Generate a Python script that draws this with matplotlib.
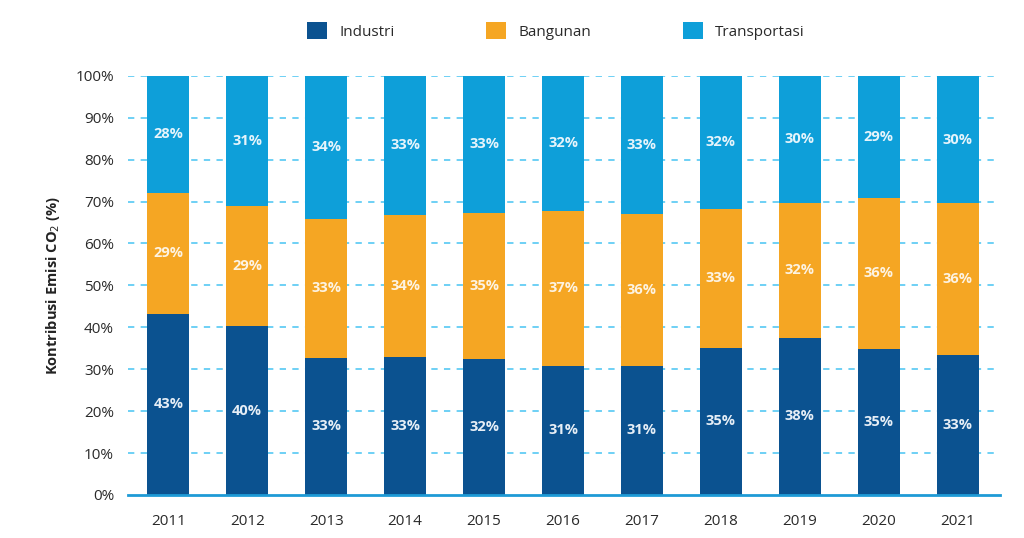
import numpy as np
import matplotlib.pyplot as plt

plt.rcParams['font.family'] = ['Open Sans', 'DejaVu Sans']

years = ['2011', '2012', '2013', '2014', '2015', '2016', '2017', '2018', '2019', '2020', '2021']
industri = [43.2, 40.3, 32.7, 32.9, 32.4, 30.8, 30.8, 35.1, 37.5, 34.8, 33.4]
bangunan = [28.9, 28.7, 33.2, 33.9, 34.9, 37.0, 36.3, 33.2, 32.2, 36.1, 36.2]
transportasi = [27.9, 31.0, 34.1, 33.2, 32.7, 32.2, 32.9, 31.7, 30.3, 29.1, 30.4]

c_ind = '#0b5290'
c_bang = '#f5a623'
c_trans = '#0e9fd9'

fig = plt.figure(figsize=(10.24, 5.38), dpi=100)
ax = fig.add_axes([0.125, 0.08, 0.852, 0.779])

x = np.arange(len(years))
w = 0.53
ind = np.array(industri)
bang = np.array(bangunan)
trans = np.array(transportasi)

# grid first so bars sit on top
for v in range(10, 101, 10):
    ax.axhline(v, color='#62cdf4', linestyle=(0, (3.5, 3.5)), linewidth=1.3, zorder=0)

b1 = ax.bar(x, ind, w, color=c_ind, label='Industri', zorder=2)
b2 = ax.bar(x, bang, w, bottom=ind, color=c_bang, label='Bangunan', zorder=2)
b3 = ax.bar(x, trans, w, bottom=ind + bang, color=c_trans, label='Transportasi', zorder=2)

for i in range(len(years)):
    ax.text(x[i], ind[i] / 2, f"{ind[i]:.0f}%", ha='center', va='center',
            color='#e6eef6', fontsize=10.5, fontweight='bold', zorder=3)
    ax.text(x[i], ind[i] + bang[i] / 2, f"{bang[i]:.0f}%", ha='center', va='center',
            color='#fdf3e2', fontsize=10.5, fontweight='bold', zorder=3)
    ax.text(x[i], ind[i] + bang[i] + trans[i] / 2, f"{trans[i]:.0f}%", ha='center', va='center',
            color='#e6f4fb', fontsize=10.5, fontweight='bold', zorder=3)

ax.set_xlim(-0.51, 10.54)
ax.set_ylim(0, 100)
ax.set_xticks(x)
ax.set_xticklabels(years, fontsize=11, color='#2a2a2a')
ax.set_yticks(range(0, 101, 10))
ax.set_yticklabels([f"{v}%" for v in range(0, 101, 10)], fontsize=11, color='#2a2a2a')
ax.tick_params(axis='y', length=0, pad=10)
ax.tick_params(axis='x', length=0, pad=14)

for s in ['top', 'right', 'left']:
    ax.spines[s].set_visible(False)
ax.spines['bottom'].set_color('#1e9ad6')
ax.spines['bottom'].set_linewidth(2)
ax.spines['bottom'].set_zorder(4)

ax.set_ylabel('Kontribusi Emisi CO$_2$ (%)', fontsize=10.5, fontweight='bold', color='#222222', labelpad=10)

fig.legend(handles=[b1, b2, b3], loc='center', bbox_to_anchor=(0.543, 0.942), ncol=3,
           frameon=False, fontsize=11, handlelength=1.3, handleheight=1.3,
           columnspacing=6.0, handletextpad=0.8, labelcolor='#2a2a2a')

plt.savefig('out.png', dpi=100)
